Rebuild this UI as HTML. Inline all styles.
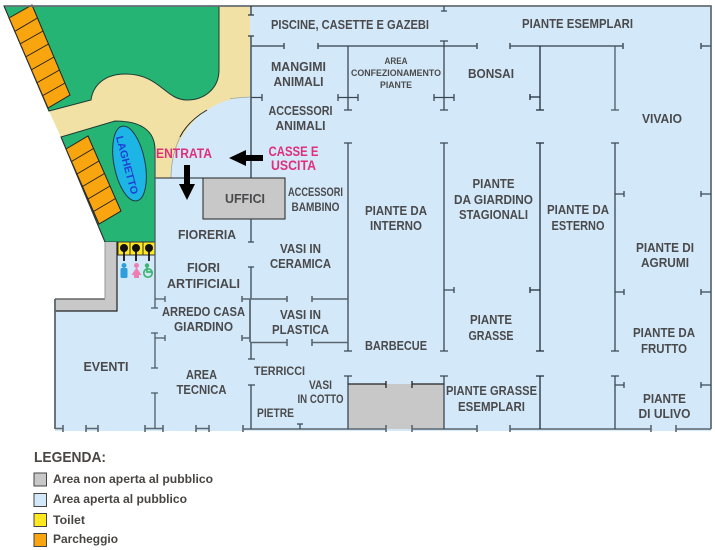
<!DOCTYPE html>
<html><head><meta charset="utf-8"><style>
html,body{margin:0;padding:0;background:#fff;width:715px;height:550px;overflow:hidden}
svg{display:block}
text{font-family:"Liberation Sans",sans-serif;font-weight:bold;fill:#4a4a4c;text-anchor:middle}
.s{font-size:13px}
.m{font-size:12px}
.t{font-size:9.5px}
.l{text-anchor:start;font-size:12px;fill:#4a4442}
.p{fill:#df2f7c;font-size:13.5px}
</style></head><body>
<svg width="715" height="550" viewBox="0 0 715 550" xmlns="http://www.w3.org/2000/svg">
<!-- beige base -->
<path d="M49 111L219 6H250V97L171 178H155L61 137Z" fill="#f2e1a5"/>
<path d="M49 111H250V178H155V145L61 137Z" fill="#f2e1a5"/>
<!-- green upper -->
<path d="M4 6H219V70C219 88 205 100 187 100C165 100 160 74 125 74C105 74 93 85 91 100L49 111Z" fill="#25b473" stroke="#1f3a33" stroke-width="1"/>
<!-- green lower -->
<path d="M61 137L115 121C140 121 155 130 155 150V242H105Z" fill="#25b473" stroke="#1f3a33" stroke-width="1"/>
<!-- blue area -->
<path d="M250 6H711V431H55V311H117V242H155V178H171C171 135 205 97 250 97Z" fill="#d3e9f9"/>
<path d="M171 178C171 165 174 150 180 137" fill="none" stroke="#9aa5a8" stroke-width=".8"/>
<path d="M180 137C186 125 195 117 207 110" fill="none" stroke="#222" stroke-width="1"/>
<path d="M230 98.500L250 97" fill="none" stroke="#9aa5a8" stroke-width=".8"/>
<!-- walls gray -->
<path d="M105 242H117V299H105Z" fill="#c8c8c8"/>
<path d="M54 299H117V311H54Z" fill="#c8c8c8"/>
<path d="M105 242V298" stroke="#999" stroke-width="1"/>
<path d="M55 299H105" stroke="#666" stroke-width="1.500"/>
<path d="M55 311H117V242" fill="none" stroke="#222" stroke-width="1.200"/>
<!-- gray block -->
<rect x="348" y="384" width="96" height="45" fill="#c8c8c8"/>
<!-- office -->
<rect x="203" y="178" width="82" height="41" fill="#c8c8c8" stroke="#222" stroke-width="1"/>
<path d="M155 178H203" stroke="#222" stroke-width="1"/>
<!-- parking -->
<g fill="#f9a50f" stroke="#222" stroke-width="1">
<path d="M9 18L32 5L70 95L48 108Z"/>
<path d="M66 149L88 136L121 211L99 224Z"/>
</g>
<g stroke="#222" stroke-width="1">
<path d="M14.400 31.600L37.400 18M20 44L43 31M25.500 57L48.500 44M31 70L54 57M36.500 83L59.500 70M42 96L65 83"/>
<path d="M71.500 161.500L93.500 148.500M77 174L99 161M82.500 186.500L104.500 173.500M88 199L110 186M93.500 211.500L115.500 198.500"/>
</g>
<!-- lake -->
<ellipse cx="129.500" cy="163.500" rx="15.500" ry="38" transform="rotate(-11 129.500 163.500)" fill="#1cb5e6" stroke="#1f3a45" stroke-width="1"/>
<text x="127.500" y="169" transform="rotate(75 127.500 165)" style="font-size:10.5px;fill:#1f3fd6" textLength="60" lengthAdjust="spacingAndGlyphs">LAGHETTO</text>
<!-- toilet -->
<rect x="118" y="242" width="37" height="13" fill="#ffe81f" stroke="#333" stroke-width="1"/>
<path d="M130 242V255M143 242V255" stroke="#333" stroke-width="1"/>
<g fill="#111"><circle cx="124" cy="248" r="4"/><circle cx="136" cy="248" r="4"/><circle cx="149" cy="248" r="4"/></g>
<path d="M124 248V261M136 248V261M149 248V261" stroke="#111" stroke-width="1.800"/>
<g fill="#2e9fdc"><circle cx="124" cy="265.500" r="2.500"/><rect x="120.500" y="268" width="7" height="10" rx="1.500"/></g>
<g fill="#ee7fb2"><circle cx="136.500" cy="265.500" r="2.500"/><path d="M136.500 267.500L141.500 275H131.500Z"/><rect x="134" y="274" width="5" height="4"/></g>
<g fill="none" stroke="#3bb56f" stroke-width="1.700"><circle cx="148" cy="273" r="4.200"/><path d="M147 267V272H152"/></g><circle cx="147" cy="265.500" r="2.200" fill="#3bb56f"/>
<!-- structural lines -->
<g fill="none" stroke="#3a4754" stroke-width="1.300">
<path d="M4 6H711V429" stroke="#666e74" stroke-width="1.800"/>
<path d="M4 6L49 111M61 137L105 242" stroke="#333" stroke-width="1"/>
<path d="M55 299V429" stroke="#5b6670" stroke-width="1.800"/>
<path d="M155 150V308M151 308H158M155 299H165M165 296V302" stroke="#4c5a66"/>
<path d="M155 333V368M151 333H158M151 368H158M155 338H165M165 335V341" stroke="#4c5a66"/>
<path d="M155 393V429M151 393H158" stroke="#4c5a66"/>
<g stroke="#5b6670" stroke-width="1.600">
<path d="M55 428.500H63M86 428.500H98M145 428.500H163M196 428.500H209M243 429H386M412 429H477M510 429H651M676 429H711"/>
<path d="M63 425V432M86 425V432M98 425V432M145 425V432M163 425V432M196 425V432M209 425V432M243 425V432M386 425V432M412 425V432M477 425V432M510 425V432M651 425V432M676 425V432"/>
</g>
<path d="M251 6V15M248 15H254M251 36V178M248 36H254" stroke="#2c3a46"/>
<path d="M251 219V242M248 242H254M251 267V299M248 267H254"/>
<path d="M250 299V342" stroke="#5b6670" stroke-width="1.800"/>
<path d="M251 342V359M248 359H255M251 385V429M248 385H255"/>
<path d="M300 424V429M297 424H303"/>
<g stroke="#4c5a66" stroke-width="1.600">
<path d="M251 46H284M284 43V49M318 46H477M318 43V49M477 43V49M510 46H623M510 43V49M623 43V49M701 46H711M701 43V49"/>
</g>
<path d="M251 97.500H262M262 94V101"/>
<path d="M348 46V110M344 110H352M338 97.500H358M338 94V101M358 94V101"/>
<path d="M444 6V11M441 11H447M444 41V110M440 41H448M440 110H448M434 97.500H454M434 94V101M454 94V101"/>
<path d="M540 46V110M536 110H544M530 97H540M530 94V100" stroke="#1f2c38"/>
<path d="M615 46V110M611 110H619" stroke="#4c5a66"/>
<path d="M348 143V351M344 143H352M344 351H352M348 376V429M344 376H352" stroke="#3a4754"/>
<path d="M444 143V351M440 143H448M440 351H448M444 290H454M454 287V293M444 376V429M440 376H448" stroke="#3a4754"/>
<path d="M540 143V351M536 143H544M536 351H544M530 290H540M530 287V293M540 376V429M536 376H544" stroke="#1f2c38"/>
<path d="M615 143V351M611 143H619M611 351H619M615 194H624M624 191V197M615 292H624M624 289V295M615 376V429M611 376H619M615 385H624M624 382V388" stroke="#3a4754"/>
<path d="M701 194H711M701 191V197M701 292H711M701 289V295M701 385H711M701 382V388"/>
<g stroke="#5b6670" stroke-width="1.600">
<path d="M242 299H287M242 296V302M287 296V302M312 299H348M312 296V302"/>
<path d="M250 342.500H287M287 339V346M312 342.500H348M312 339V346"/>
<path d="M242 338H250M242 335V341"/>
</g>
<path d="M348 384H386M386 381V388M412 384H444M412 381V388" stroke="#222"/>
</g>
<!-- arrows -->
<path d="M263 155V161H246V166L229 158L246 150V155Z" fill="#000"/>
<path d="M184 165H190V184H195L187 200L179 184H184Z" fill="#000"/>
<!-- labels -->
<text class="s" x="350" y="29" textLength="158" lengthAdjust="spacingAndGlyphs">PISCINE, CASETTE E GAZEBI</text>
<text class="s" x="577.500" y="28" textLength="111" lengthAdjust="spacingAndGlyphs">PIANTE ESEMPLARI</text>
<text class="s" x="298.500" y="71" textLength="55" lengthAdjust="spacingAndGlyphs">MANGIMI</text>
<text class="s" x="298.500" y="86" textLength="50" lengthAdjust="spacingAndGlyphs">ANIMALI</text>
<text class="t" x="396" y="64" textLength="23" lengthAdjust="spacingAndGlyphs">AREA</text>
<text class="t" x="396" y="76" textLength="90" lengthAdjust="spacingAndGlyphs">CONFEZIONAMENTO</text>
<text class="t" x="396" y="88" textLength="32" lengthAdjust="spacingAndGlyphs">PIANTE</text>
<text class="s" x="491" y="78" textLength="46" lengthAdjust="spacingAndGlyphs">BONSAI</text>
<text class="s" x="300.500" y="115" textLength="64" lengthAdjust="spacingAndGlyphs">ACCESSORI</text>
<text class="s" x="300.500" y="130" textLength="50" lengthAdjust="spacingAndGlyphs">ANIMALI</text>
<text class="s" x="662" y="123" textLength="40" lengthAdjust="spacingAndGlyphs">VIVAIO</text>
<text class="p" x="184" y="158" textLength="56" lengthAdjust="spacingAndGlyphs">ENTRATA</text>
<text class="p" x="293.500" y="156" textLength="50" lengthAdjust="spacingAndGlyphs">CASSE E</text>
<text class="p" x="293.500" y="170" textLength="45" lengthAdjust="spacingAndGlyphs">USCITA</text>
<text class="s" x="245" y="203" textLength="40" lengthAdjust="spacingAndGlyphs">UFFICI</text>
<text class="m" x="315.500" y="196" textLength="55" lengthAdjust="spacingAndGlyphs">ACCESSORI</text>
<text class="m" x="315.500" y="211" textLength="48" lengthAdjust="spacingAndGlyphs">BAMBINO</text>
<text class="s" x="396" y="215" textLength="62" lengthAdjust="spacingAndGlyphs">PIANTE DA</text>
<text class="s" x="396" y="230" textLength="52" lengthAdjust="spacingAndGlyphs">INTERNO</text>
<text class="s" x="493.500" y="188" textLength="42" lengthAdjust="spacingAndGlyphs">PIANTE</text>
<text class="s" x="493.500" y="204" textLength="79" lengthAdjust="spacingAndGlyphs">DA GIARDINO</text>
<text class="s" x="493.500" y="219" textLength="69" lengthAdjust="spacingAndGlyphs">STAGIONALI</text>
<text class="s" x="578" y="214" textLength="62" lengthAdjust="spacingAndGlyphs">PIANTE DA</text>
<text class="s" x="578" y="230" textLength="53" lengthAdjust="spacingAndGlyphs">ESTERNO</text>
<text class="s" x="207" y="239" textLength="58" lengthAdjust="spacingAndGlyphs">FIORERIA</text>
<text class="s" x="300.500" y="253" textLength="41" lengthAdjust="spacingAndGlyphs">VASI IN</text>
<text class="s" x="300.500" y="268" textLength="61" lengthAdjust="spacingAndGlyphs">CERAMICA</text>
<text class="s" x="665" y="252" textLength="58" lengthAdjust="spacingAndGlyphs">PIANTE DI</text>
<text class="s" x="665" y="267" textLength="48" lengthAdjust="spacingAndGlyphs">AGRUMI</text>
<text class="s" x="203.500" y="272" textLength="33" lengthAdjust="spacingAndGlyphs">FIORI</text>
<text class="s" x="203.500" y="288" textLength="73" lengthAdjust="spacingAndGlyphs">ARTIFICIALI</text>
<text class="s" x="203.500" y="316" textLength="83" lengthAdjust="spacingAndGlyphs">ARREDO CASA</text>
<text class="s" x="203.500" y="331" textLength="59" lengthAdjust="spacingAndGlyphs">GIARDINO</text>
<text class="s" x="300.500" y="319" textLength="41" lengthAdjust="spacingAndGlyphs">VASI IN</text>
<text class="s" x="300.500" y="334" textLength="57" lengthAdjust="spacingAndGlyphs">PLASTICA</text>
<text class="s" x="491" y="324" textLength="42" lengthAdjust="spacingAndGlyphs">PIANTE</text>
<text class="s" x="491" y="340" textLength="45" lengthAdjust="spacingAndGlyphs">GRASSE</text>
<text class="s" x="664" y="337" textLength="62" lengthAdjust="spacingAndGlyphs">PIANTE DA</text>
<text class="s" x="664" y="353" textLength="46" lengthAdjust="spacingAndGlyphs">FRUTTO</text>
<text class="s" x="396" y="350" textLength="62" lengthAdjust="spacingAndGlyphs">BARBECUE</text>
<text class="s" x="106" y="371" textLength="45" lengthAdjust="spacingAndGlyphs">EVENTI</text>
<text class="s" x="201.500" y="379" textLength="31" lengthAdjust="spacingAndGlyphs">AREA</text>
<text class="s" x="201.500" y="394" textLength="50" lengthAdjust="spacingAndGlyphs">TECNICA</text>
<text class="m" x="279.500" y="375" textLength="51" lengthAdjust="spacingAndGlyphs">TERRICCI</text>
<text class="m" x="320.500" y="389" textLength="23" lengthAdjust="spacingAndGlyphs">VASI</text>
<text class="m" x="320.500" y="403" textLength="46" lengthAdjust="spacingAndGlyphs">IN COTTO</text>
<text class="m" x="275.500" y="417" textLength="37" lengthAdjust="spacingAndGlyphs">PIETRE</text>
<text class="s" x="491.500" y="395" textLength="91" lengthAdjust="spacingAndGlyphs">PIANTE GRASSE</text>
<text class="s" x="491.500" y="411" textLength="67" lengthAdjust="spacingAndGlyphs">ESEMPLARI</text>
<text class="s" x="664.500" y="403" textLength="43" lengthAdjust="spacingAndGlyphs">PIANTE</text>
<text class="s" x="664.500" y="418" textLength="52" lengthAdjust="spacingAndGlyphs">DI ULIVO</text>
<!-- legend -->
<text x="34" y="462" style="text-anchor:start;font-size:15px;fill:#4a4442" textLength="72" lengthAdjust="spacingAndGlyphs">LEGENDA:</text>
<rect x="34" y="473" width="12.500" height="13" fill="#c8c8c8" stroke="#444" stroke-width="1"/>
<rect x="34" y="493.500" width="12.500" height="13" fill="#d3e9f9" stroke="#444" stroke-width="1"/>
<rect x="34" y="513.500" width="12.500" height="13" fill="#ffe81f" stroke="#444" stroke-width="1"/>
<rect x="34" y="533.500" width="12.500" height="13" fill="#f9a50f" stroke="#444" stroke-width="1"/>
<text class="l" x="53" y="483" textLength="160" lengthAdjust="spacingAndGlyphs">Area non aperta al pubblico</text>
<text class="l" x="53" y="503" textLength="134" lengthAdjust="spacingAndGlyphs">Area aperta al pubblico</text>
<text class="l" x="53" y="524" textLength="32" lengthAdjust="spacingAndGlyphs">Toilet</text>
<text class="l" x="53" y="543" textLength="65" lengthAdjust="spacingAndGlyphs">Parcheggio</text>
</svg>
</body></html>
